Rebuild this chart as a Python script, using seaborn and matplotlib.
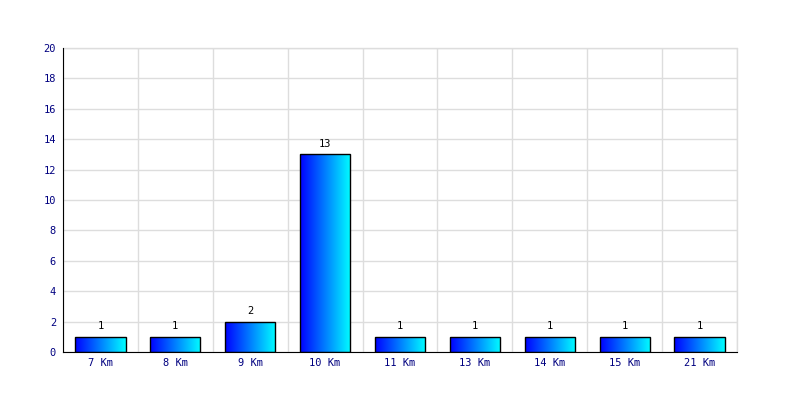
import matplotlib
matplotlib.use("Agg")
from matplotlib import pyplot as plt
import seaborn as sns
import numpy as np
import pandas as pd

categories = ["7 Km", "8 Km", "9 Km", "10 Km", "11 Km", "13 Km", "14 Km", "15 Km", "21 Km"]
counts = [1, 1, 2, 13, 1, 1, 1, 1, 1]
y_ticks = [0, 2, 4, 6, 8, 10, 12, 14, 16, 18, 20]

sns.set_style("white")
plt.rcParams['font.family'] = ['DejaVu Sans Mono']

df = pd.DataFrame({"distance": categories, "count": counts})

fig = plt.figure(figsize=(8, 4), dpi=100)
ax = fig.add_axes([63 / 800, 48 / 400, 674 / 800, 304 / 400])

sns.barplot(data=df, x="distance", y="count", ax=ax, width=0.67,
            color="#0000ff", edgecolor="black", linewidth=1, zorder=3)

# gradient fill inside every bar
grad = np.linspace(0, 1, 256).reshape(1, -1)
cmap = matplotlib.colors.LinearSegmentedColormap.from_list("bc", ["#0000ff", "#00ffff"])
for patch in ax.patches:
    x0, y0 = patch.get_x(), patch.get_y()
    w, h = patch.get_width(), patch.get_height()
    img = ax.imshow(grad, cmap=cmap, aspect="auto", extent=[x0, x0 + w, y0, y0 + h],
                    zorder=3.5, interpolation="bicubic")
    img.set_clip_path(patch)
    patch.set_facecolor("none")
    patch.set_zorder(4)

for i, v in enumerate(counts):
    ax.annotate(str(v), (i, v), xytext=(0, 4), textcoords="offset points",
                ha="center", va="bottom", fontsize=7.5, color="black")

ax.set_xlim(-0.5, len(categories) - 0.5)
ax.set_ylim(0, 20)
ax.set_yticks(y_ticks)
ax.set_xticks(np.arange(-0.5, len(categories)), minor=True)
ax.grid(False)
ax.grid(axis="y", which="major", color="#dddddd", linewidth=1, zorder=0)
ax.grid(axis="x", which="minor", color="#dddddd", linewidth=1, zorder=0)
ax.set_axisbelow(True)

ax.tick_params(axis="both", which="both", length=0, labelsize=7.5, labelcolor="#000080")
ax.tick_params(axis="y", pad=5)
ax.tick_params(axis="x", pad=4)
ax.set_xlabel("")
ax.set_ylabel("")

for side in ["top", "right"]:
    ax.spines[side].set_visible(False)
ax.spines["left"].set_color("black")
ax.spines["bottom"].set_color("black")
ax.spines["left"].set_zorder(5)
ax.spines["bottom"].set_zorder(5)

# close the grid on the top and right edge
ax.axhline(20, color="#dddddd", linewidth=1, zorder=0, clip_on=False)
ax.axvline(len(categories) - 0.5, color="#dddddd", linewidth=1, zorder=0, clip_on=False)

fig.savefig("out.png", dpi=100)
